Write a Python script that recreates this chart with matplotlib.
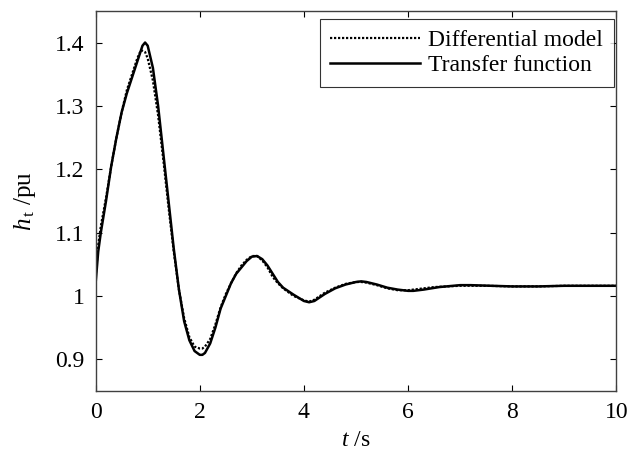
import numpy as np
import matplotlib
matplotlib.use("Agg")
import matplotlib.pyplot as plt

plt.rcParams['font.family'] = 'Liberation Serif'
plt.rcParams['mathtext.fontset'] = 'custom'
plt.rcParams['mathtext.rm'] = 'Liberation Serif'
plt.rcParams['mathtext.it'] = 'Liberation Serif:italic'

# transfer function response (solid)
t_tf = [0, 0.05, 0.1, 0.2, 0.3, 0.4, 0.5, 0.6, 0.7, 0.8,
        0.9, 0.95, 1.0, 1.1, 1.2, 1.3, 1.4, 1.5, 1.6, 1.7,
        1.8, 1.9, 2.0, 2.05, 2.1, 2.2, 2.3, 2.4, 2.5, 2.6,
        2.7, 2.8, 2.9, 3.0, 3.1, 3.2, 3.3, 3.4, 3.5, 3.6,
        3.8, 4.0, 4.1, 4.2, 4.4, 4.6, 4.8, 5.0, 5.1, 5.2,
        5.4, 5.6, 5.8, 6.0, 6.1, 6.3, 6.6, 7.0, 7.2, 7.6,
        8.0, 8.5, 9.0, 9.5, 10]
h_tf = [1.02, 1.07, 1.10, 1.15, 1.205, 1.25, 1.29, 1.32, 1.345, 1.37,
        1.395, 1.40, 1.395, 1.36, 1.30, 1.225, 1.15, 1.075, 1.01, 0.96,
        0.93, 0.913, 0.907, 0.907, 0.91, 0.925, 0.95, 0.98, 1.0, 1.02,
        1.035, 1.045, 1.055, 1.062, 1.063, 1.058, 1.048, 1.035, 1.022, 1.013,
        1.002, 0.992, 0.99, 0.992, 1.003, 1.012, 1.018, 1.022, 1.023, 1.022,
        1.018, 1.013, 1.01, 1.008, 1.008, 1.01, 1.014, 1.017, 1.017, 1.016,
        1.015, 1.015, 1.016, 1.016, 1.016]

# differential model response (dotted)
t_dm = [0, 0.05, 0.1, 0.2, 0.3, 0.4, 0.5, 0.6, 0.7, 0.8,
        0.87, 0.95, 1.0, 1.1, 1.2, 1.3, 1.4, 1.5, 1.6, 1.7,
        1.8, 1.9, 2.0, 2.05, 2.1, 2.2, 2.3, 2.4, 2.5, 2.6,
        2.7, 2.8, 2.9, 3.0, 3.1, 3.2, 3.3, 3.4, 3.5, 3.6,
        3.8, 4.0, 4.1, 4.2, 4.4, 4.6, 4.8, 5.0, 5.1, 5.2,
        5.4, 5.6, 5.8, 6.0, 6.2, 6.5, 7.0, 7.5, 8.0, 8.5,
        9.0, 9.5, 10]
h_dm = [1.03, 1.08, 1.11, 1.155, 1.205, 1.25, 1.29, 1.325, 1.35, 1.375,
        1.388, 1.385, 1.375, 1.34, 1.285, 1.215, 1.14, 1.07, 1.01, 0.965,
        0.935, 0.92, 0.917, 0.917, 0.92, 0.932, 0.955, 0.982, 1.003, 1.02,
        1.036, 1.048, 1.057, 1.063, 1.063, 1.056, 1.045, 1.03, 1.02, 1.012,
        1.0, 0.993, 0.991, 0.994, 1.005, 1.013, 1.019, 1.022, 1.022, 1.021,
        1.017, 1.012, 1.009, 1.009, 1.011, 1.014, 1.016, 1.016, 1.015, 1.015,
        1.016, 1.016, 1.016]

xticks = [0, 2, 4, 6, 8, 10]
yticks = [0.9, 1.0, 1.1, 1.2, 1.3, 1.4]
ytick_labels = ['0.9', '1', '1.1', '1.2', '1.3', '1.4']

fig = plt.figure(figsize=(6.29, 4.53), dpi=100)
ax = fig.add_axes([0.152, 0.137, 0.828, 0.839])

ax.plot(t_dm, h_dm, color='black', lw=1.6, linestyle=(0, (1, 0.8)), label='Differential model')
ax.plot(t_tf, h_tf, color='black', lw=1.8, label='Transfer function')

ax.set_xlim(0, 10)
ax.set_ylim(0.85, 1.45)
ax.set_xticks(xticks)
ax.set_yticks(yticks)
ax.set_yticklabels(ytick_labels)
ax.tick_params(direction='in', top=True, right=True, labelsize=17, length=4, width=0.8, pad=8)
for s in ax.spines.values():
    s.set_linewidth(1.0)
    s.set_color('#404040')

ax.set_xlabel('$t$ /s', fontsize=17, labelpad=5)
ax.set_ylabel('$h_{\\,\\mathrm{t}}$ /pu', fontsize=18, labelpad=12)

leg = ax.legend(loc='upper right', bbox_to_anchor=(0.995, 0.979), borderaxespad=0,
                fontsize=17, handlelength=3.8, frameon=True, fancybox=False,
                edgecolor='black', borderpad=0.45, labelspacing=0.15, handletextpad=0.35)
leg.get_frame().set_linewidth(0.8)

fig.savefig('out.png', dpi=100)
